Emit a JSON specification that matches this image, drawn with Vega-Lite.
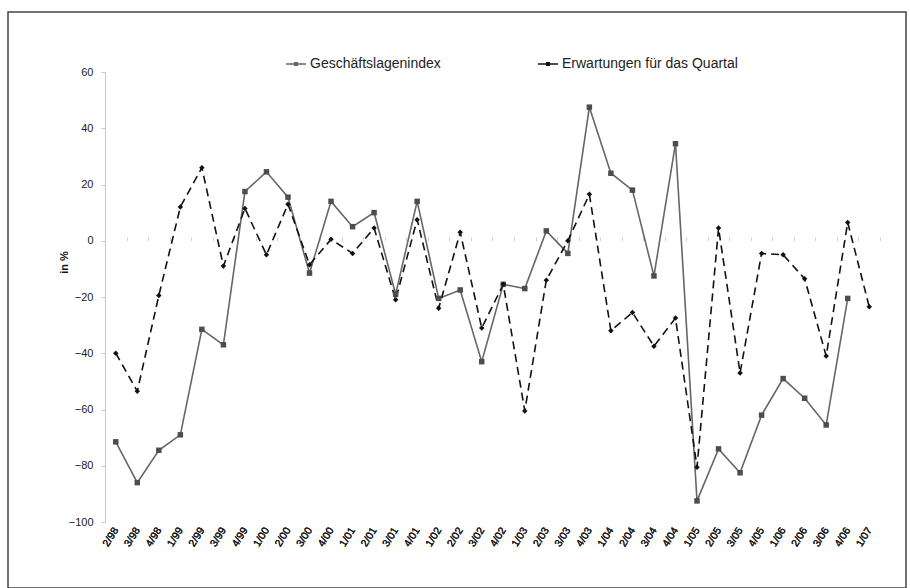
{
  "$schema": "https://vega.github.io/schema/vega-lite/v6.json",
  "width": 898,
  "height": 576,
  "autosize": {"type": "none"},
  "padding": {"left": 8, "top": 12, "right": 4, "bottom": 0},
  "background": "white",
  "config": {
    "view": {"stroke": "#444444", "strokeWidth": 1.5},
    "font": "Liberation Sans"
  },
  "data": {
    "values": [
      {"q": "2/98", "s": "Geschäftslagenindex", "v": -71.5}, {"q": "2/98", "s": "Erwartungen für das Quartal", "v": -40},
      {"q": "3/98", "s": "Geschäftslagenindex", "v": -86}, {"q": "3/98", "s": "Erwartungen für das Quartal", "v": -53.5},
      {"q": "4/98", "s": "Geschäftslagenindex", "v": -74.5}, {"q": "4/98", "s": "Erwartungen für das Quartal", "v": -19.5},
      {"q": "1/99", "s": "Geschäftslagenindex", "v": -69}, {"q": "1/99", "s": "Erwartungen für das Quartal", "v": 12},
      {"q": "2/99", "s": "Geschäftslagenindex", "v": -31.5}, {"q": "2/99", "s": "Erwartungen für das Quartal", "v": 26},
      {"q": "3/99", "s": "Geschäftslagenindex", "v": -37}, {"q": "3/99", "s": "Erwartungen für das Quartal", "v": -9},
      {"q": "4/99", "s": "Geschäftslagenindex", "v": 17.5}, {"q": "4/99", "s": "Erwartungen für das Quartal", "v": 11.5},
      {"q": "1/00", "s": "Geschäftslagenindex", "v": 24.5}, {"q": "1/00", "s": "Erwartungen für das Quartal", "v": -5},
      {"q": "2/00", "s": "Geschäftslagenindex", "v": 15.5}, {"q": "2/00", "s": "Erwartungen für das Quartal", "v": 13},
      {"q": "3/00", "s": "Geschäftslagenindex", "v": -11.5}, {"q": "3/00", "s": "Erwartungen für das Quartal", "v": -8.5},
      {"q": "4/00", "s": "Geschäftslagenindex", "v": 14}, {"q": "4/00", "s": "Erwartungen für das Quartal", "v": 0.5},
      {"q": "1/01", "s": "Geschäftslagenindex", "v": 5}, {"q": "1/01", "s": "Erwartungen für das Quartal", "v": -4.5},
      {"q": "2/01", "s": "Geschäftslagenindex", "v": 10}, {"q": "2/01", "s": "Erwartungen für das Quartal", "v": 4.5},
      {"q": "3/01", "s": "Geschäftslagenindex", "v": -19}, {"q": "3/01", "s": "Erwartungen für das Quartal", "v": -21},
      {"q": "4/01", "s": "Geschäftslagenindex", "v": 14}, {"q": "4/01", "s": "Erwartungen für das Quartal", "v": 7.5},
      {"q": "1/02", "s": "Geschäftslagenindex", "v": -20.5}, {"q": "1/02", "s": "Erwartungen für das Quartal", "v": -24},
      {"q": "2/02", "s": "Geschäftslagenindex", "v": -17.5}, {"q": "2/02", "s": "Erwartungen für das Quartal", "v": 3},
      {"q": "3/02", "s": "Geschäftslagenindex", "v": -43}, {"q": "3/02", "s": "Erwartungen für das Quartal", "v": -31},
      {"q": "4/02", "s": "Geschäftslagenindex", "v": -15.5}, {"q": "4/02", "s": "Erwartungen für das Quartal", "v": -15.5},
      {"q": "1/03", "s": "Geschäftslagenindex", "v": -17}, {"q": "1/03", "s": "Erwartungen für das Quartal", "v": -60.5},
      {"q": "2/03", "s": "Geschäftslagenindex", "v": 3.5}, {"q": "2/03", "s": "Erwartungen für das Quartal", "v": -14},
      {"q": "3/03", "s": "Geschäftslagenindex", "v": -4.5}, {"q": "3/03", "s": "Erwartungen für das Quartal", "v": 0},
      {"q": "4/03", "s": "Geschäftslagenindex", "v": 47.5}, {"q": "4/03", "s": "Erwartungen für das Quartal", "v": 16.5},
      {"q": "1/04", "s": "Geschäftslagenindex", "v": 24}, {"q": "1/04", "s": "Erwartungen für das Quartal", "v": -32},
      {"q": "2/04", "s": "Geschäftslagenindex", "v": 18}, {"q": "2/04", "s": "Erwartungen für das Quartal", "v": -25.5},
      {"q": "3/04", "s": "Geschäftslagenindex", "v": -12.5}, {"q": "3/04", "s": "Erwartungen für das Quartal", "v": -37.5},
      {"q": "4/04", "s": "Geschäftslagenindex", "v": 34.5}, {"q": "4/04", "s": "Erwartungen für das Quartal", "v": -27.5},
      {"q": "1/05", "s": "Geschäftslagenindex", "v": -92.5}, {"q": "1/05", "s": "Erwartungen für das Quartal", "v": -80.5},
      {"q": "2/05", "s": "Geschäftslagenindex", "v": -74}, {"q": "2/05", "s": "Erwartungen für das Quartal", "v": 4.5},
      {"q": "3/05", "s": "Geschäftslagenindex", "v": -82.5}, {"q": "3/05", "s": "Erwartungen für das Quartal", "v": -47},
      {"q": "4/05", "s": "Geschäftslagenindex", "v": -62}, {"q": "4/05", "s": "Erwartungen für das Quartal", "v": -4.5},
      {"q": "1/06", "s": "Geschäftslagenindex", "v": -49}, {"q": "1/06", "s": "Erwartungen für das Quartal", "v": -5},
      {"q": "2/06", "s": "Geschäftslagenindex", "v": -56}, {"q": "2/06", "s": "Erwartungen für das Quartal", "v": -13.5},
      {"q": "3/06", "s": "Geschäftslagenindex", "v": -65.5}, {"q": "3/06", "s": "Erwartungen für das Quartal", "v": -41},
      {"q": "4/06", "s": "Geschäftslagenindex", "v": -20.5}, {"q": "4/06", "s": "Erwartungen für das Quartal", "v": 6.5},
      {"q": "1/07", "s": "Erwartungen für das Quartal", "v": -23.5}
    ]
  },
  "encoding": {
    "x": {
      "field": "q", "type": "ordinal",
      "sort": ["2/98","3/98","4/98","1/99","2/99","3/99","4/99","1/00","2/00","3/00","4/00","1/01","2/01","3/01","4/01","1/02","2/02","3/02","4/02","1/03","2/03","3/03","4/03","1/04","2/04","3/04","4/04","1/05","2/05","3/05","4/05","1/06","2/06","3/06","4/06","1/07"],
      "scale": {"type": "point", "range": [97, 872], "padding": 0.5},
      "axis": {"orient": "bottom", "offset": -66, "title": null, "domain": false, "ticks": false, "labelAngle": -58, "labelAlign": "right", "labelBaseline": "middle", "labelPadding": 6, "labelFontSize": 10.5, "labelColor": "#222222"}
    },
    "y": {
      "field": "v", "type": "quantitative",
      "scale": {"domain": [-100, 60], "range": [510, 60], "nice": false, "zero": false},
      "axis": {"orient": "left", "offset": -97, "values": [-100, -80, -60, -40, -20, 0, 20, 40, 60], "grid": false, "domainColor": "#c8c8c8", "tickColor": "#c8c8c8", "tickSize": 4, "labelPadding": 8, "labelFontSize": 11, "labelColor": "#222222", "title": "in %", "titleFontSize": 11, "titleFontWeight": "bold", "titleColor": "#111111", "titleX": -41, "titleY": 250, "titleAlign": "center", "titleBaseline": "middle"}
    }
  },
  "layer": [
    {
      "transform": [{"filter": "datum.s === 'Geschäftslagenindex'"}],
      "mark": {"type": "line", "strokeWidth": 1.6},
      "encoding": {
        "stroke": {
          "field": "s", "type": "nominal",
          "scale": {"domain": ["Geschäftslagenindex", "Erwartungen für das Quartal"], "range": ["#666666", "#111111"]},
          "legend": {
            "orient": "none", "legendX": 277, "legendY": 41, "direction": "horizontal", "title": null,
            "labelFontSize": 14, "labelColor": "#222222", "labelLimit": 400, "symbolSize": 400, "symbolStrokeWidth": 1.5, "columnPadding": 94, "labelOffset": 3,
            "symbolType": "M-1,0H1M-0.13,-0.13H0.13V0.13H-0.13Z"
          }
        }
      }
    },
    {
      "transform": [{"filter": "datum.s === 'Erwartungen für das Quartal'"}],
      "mark": {"type": "line", "strokeWidth": 1.6, "strokeDash": [8, 5]},
      "encoding": {
        "stroke": {"field": "s", "type": "nominal", "scale": {"domain": ["Geschäftslagenindex", "Erwartungen für das Quartal"], "range": ["#666666", "#111111"]}}
      }
    },
    {
      "transform": [{"filter": "datum.s === 'Geschäftslagenindex'"}],
      "mark": {"type": "point", "filled": true, "size": 30, "opacity": 1, "strokeWidth": 0, "shape": "square"},
      "encoding": {
        "x": {
          "field": "q", "type": "ordinal",
          "sort": ["2/98","3/98","4/98","1/99","2/99","3/99","4/99","1/00","2/00","3/00","4/00","1/01","2/01","3/01","4/01","1/02","2/02","3/02","4/02","1/03","2/03","3/03","4/03","1/04","2/04","3/04","4/04","1/05","2/05","3/05","4/05","1/06","2/06","3/06","4/06","1/07"],
          "axis": {"orient": "top", "offset": -228.75, "title": null, "labels": false, "domain": false, "ticks": true, "tickColor": "#d0d0d0", "tickSize": 4, "tickOffset": 10.76}
        },
        "fill": {"field": "s", "type": "nominal", "scale": {"domain": ["Geschäftslagenindex", "Erwartungen für das Quartal"], "range": ["#4d4d4d", "#111111"]}, "legend": null}
      }
    },
    {
      "transform": [{"filter": "datum.s === 'Erwartungen für das Quartal'"}],
      "mark": {"type": "point", "filled": true, "size": 30, "opacity": 1, "strokeWidth": 0, "shape": "diamond"},
      "encoding": {
        "fill": {"field": "s", "type": "nominal", "scale": {"domain": ["Geschäftslagenindex", "Erwartungen für das Quartal"], "range": ["#4d4d4d", "#111111"]}, "legend": null}
      }
    }
  ],
  "resolve": {"axis": {"x": "independent"}}
}
